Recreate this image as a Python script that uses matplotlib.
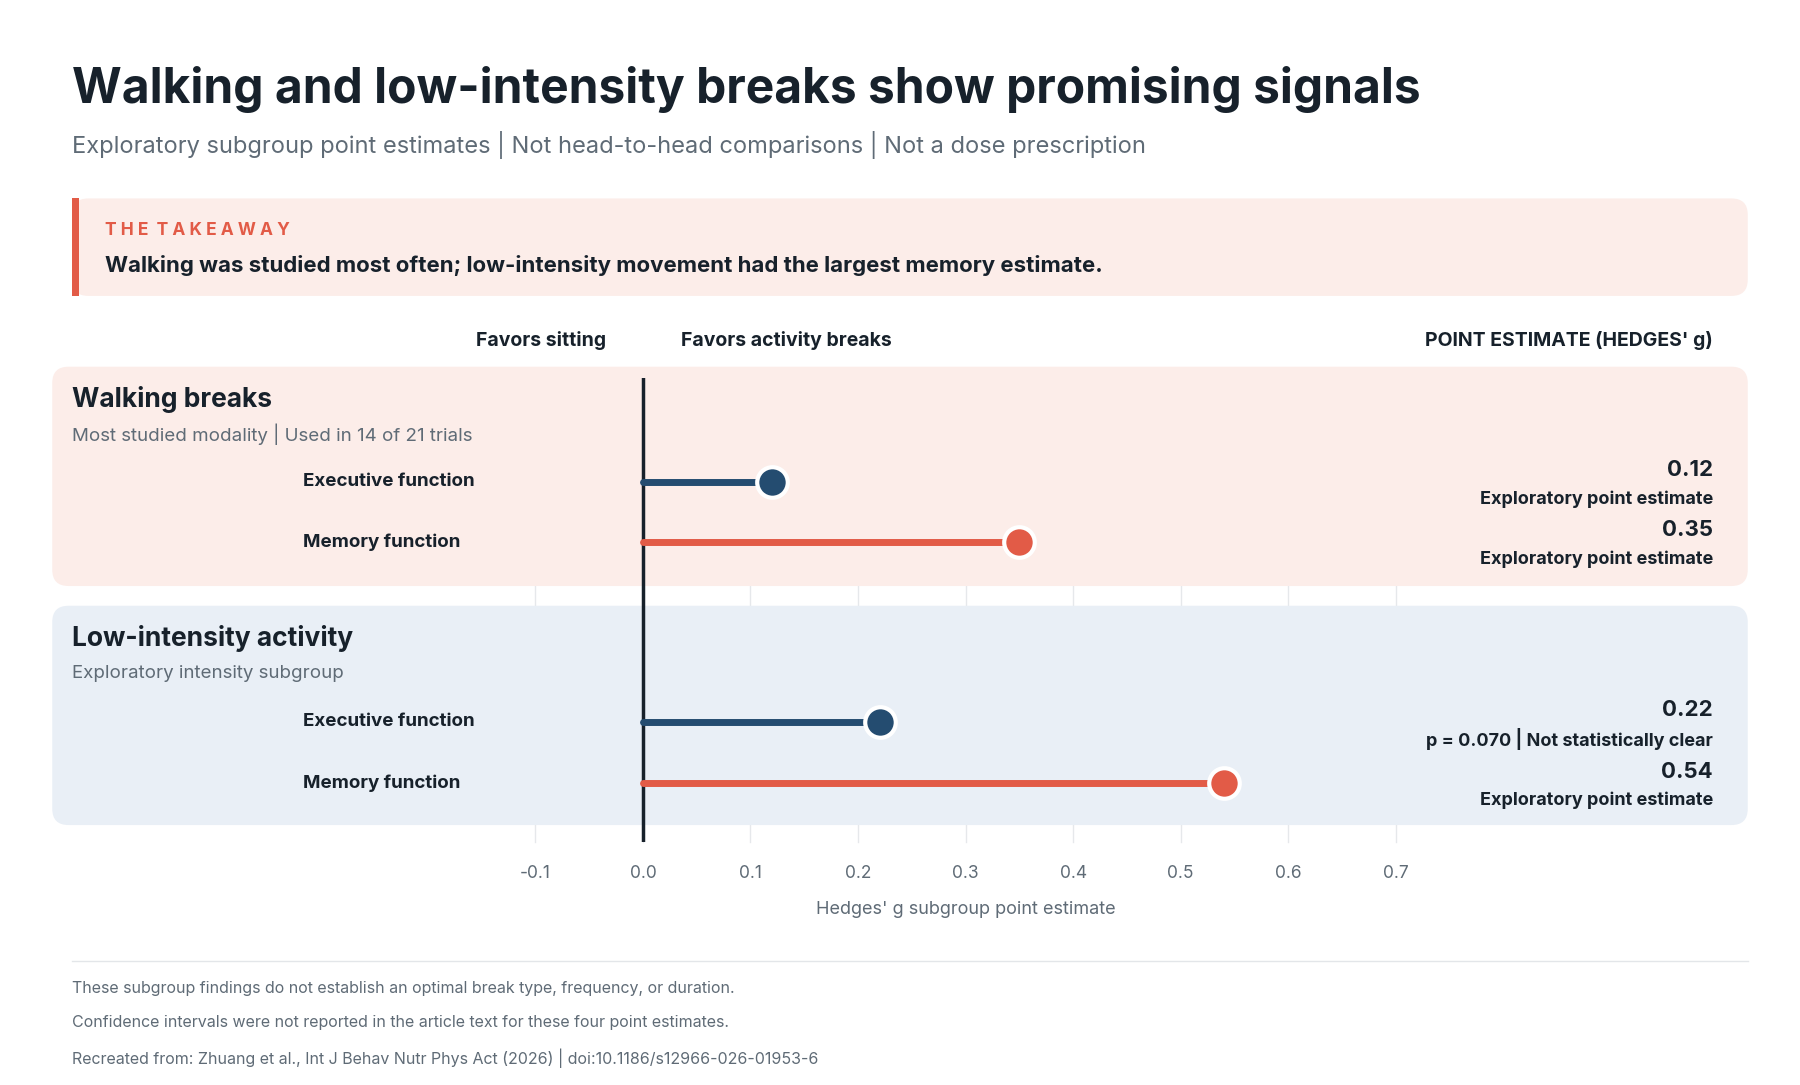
import matplotlib
matplotlib.use('Agg')
import matplotlib.pyplot as plt
from matplotlib.patches import FancyBboxPatch, Rectangle
from matplotlib.transforms import blended_transform_factory

plt.rcParams['font.family'] = ['Inter', 'DejaVu Sans']

# data
groups = ['Walking breaks', 'Low-intensity activity']
group_notes = ['Most studied modality | Used in 14 of 21 trials', 'Exploratory intensity subgroup']
outcomes = ['Executive function', 'Memory function', 'Executive function', 'Memory function']
values = [0.12, 0.35, 0.22, 0.54]
value_notes = ['Exploratory point estimate', 'Exploratory point estimate',
               'p = 0.070 | Not statistically clear', 'Exploratory point estimate']
ticks = [-0.1, 0.0, 0.1, 0.2, 0.3, 0.4, 0.5, 0.6, 0.7]
footnotes = ['These subgroup findings do not establish an optimal break type, frequency, or duration.',
             'Confidence intervals were not reported in the article text for these four point estimates.',
             'Recreated from: Zhuang et al., Int J Behav Nutr Phys Act (2026) | doi:10.1186/s12966-026-01953-6']

NAVY = '#244C70'
RED = '#E25B47'
DARK = '#17212B'
GRAY = '#5F6B76'
PINK = '#FCEDE9'
BLUE = '#E9EFF6'

W, H = 1550, 935
fig = plt.figure(figsize=(18, 10.85), dpi=100)
bg = fig.add_axes([0, 0, 1, 1])
bg.set_xlim(0, W)
bg.set_ylim(H, 0)
bg.axis('off')

ax = fig.add_axes([461 / W, 1 - 726 / H, (1202 - 461) / W, 400 / H])
ax.set_xlim(-0.1, 0.7)
ax.set_ylim(726, 326)
ax.patch.set_alpha(0)
for s in ax.spines.values():
    s.set_visible(False)
ax.set_yticks([])
ax.set_xticks(ticks)
ax.set_xticklabels([f'{t:.1f}' for t in ticks], color=GRAY, fontsize=12.5)
ax.tick_params(axis='x', length=0, pad=16)
ax.set_xlabel("Hedges' g subgroup point estimate", color=GRAY, fontsize=13, labelpad=14)

# gridlines behind panels
tr = blended_transform_factory(ax.transData, bg.transData)
for t in ticks:
    bg.plot([t, t], [326, 726], transform=tr, color='#E6E8EB', lw=1, zorder=0)

# title
bg.text(62, 77, 'Walking and low-intensity breaks show promising signals', fontsize=34.5,
        fontweight='bold', color=DARK, va='center')
bg.text(62, 125, 'Exploratory subgroup point estimates | Not head-to-head comparisons | Not a dose prescription',
        fontsize=17, color=GRAY, va='center')

# takeaway
bg.add_patch(FancyBboxPatch((62, 171), 1443, 84, boxstyle='round,pad=0,rounding_size=14',
                            fc=PINK, ec='none', zorder=1))
bg.add_patch(Rectangle((62, 171), 6, 84, fc=RED, ec='none', zorder=2))
bg.text(90, 199, 'T H E   T A K E A W A Y'.replace('   ', '  '), fontsize=12.5, fontweight='bold',
        color=RED, va='center')
bg.text(90, 229, 'Walking was studied most often; low-intensity movement had the largest memory estimate.',
        fontsize=16, fontweight='bold', color=DARK, va='center')

# header row
bg.text(522, 293, 'Favors sitting', fontsize=14, fontweight='bold', color=DARK, ha='right', va='center')
bg.text(586, 293, 'Favors activity breaks', fontsize=14, fontweight='bold', color=DARK, va='center')
bg.text(1475, 293, "POINT ESTIMATE (HEDGES' g)", fontsize=14, fontweight='bold', color=DARK,
        ha='right', va='center')

# panels
panel_tops = [316, 522]
panel_cols = [PINK, BLUE]
for i, g in enumerate(groups):
    top = panel_tops[i]
    bg.add_patch(FancyBboxPatch((45, top), 1460, 189, boxstyle='round,pad=0,rounding_size=14',
                                fc=panel_cols[i], ec='none', zorder=1))
    bg.text(62, top + 28, g, fontsize=19, fontweight='bold', color=DARK, va='center', zorder=3)
    bg.text(62, top + 58, group_notes[i], fontsize=13.5, color=GRAY, va='center', zorder=3)

row_y = [415, 467, 622, 675]
ax.plot([0, 0], [326, 726], color=DARK, lw=2.5, zorder=2)
for y, lab, v, note in zip(row_y, outcomes, values, value_notes):
    c = NAVY if lab.startswith('Executive') else RED
    ax.plot([0, v], [y, y], color=c, lw=5, solid_capstyle='round', zorder=3)
    ax.plot([v], [y], 'o', ms=22, color=c, mec='white', mew=3, zorder=4)
    bg.text(261, y, lab, fontsize=13.5, fontweight='bold', color=DARK, va='center', zorder=3)
    bg.text(1475, y - 10, f'{v:.2f}', fontsize=16, fontweight='bold', color=DARK,
            ha='right', va='center', zorder=3)
    bg.text(1475, y + 15, note, fontsize=13, fontweight='bold', color=DARK,
            ha='right', va='center', zorder=3)

# footer
bg.plot([62, 1505], [828, 828], color='#E3E6E9', lw=1)
for y, f in zip([852, 881, 912], footnotes):
    bg.text(62, y, f, fontsize=11.5, color=GRAY, va='center')

fig.savefig('out.png', dpi=100)
